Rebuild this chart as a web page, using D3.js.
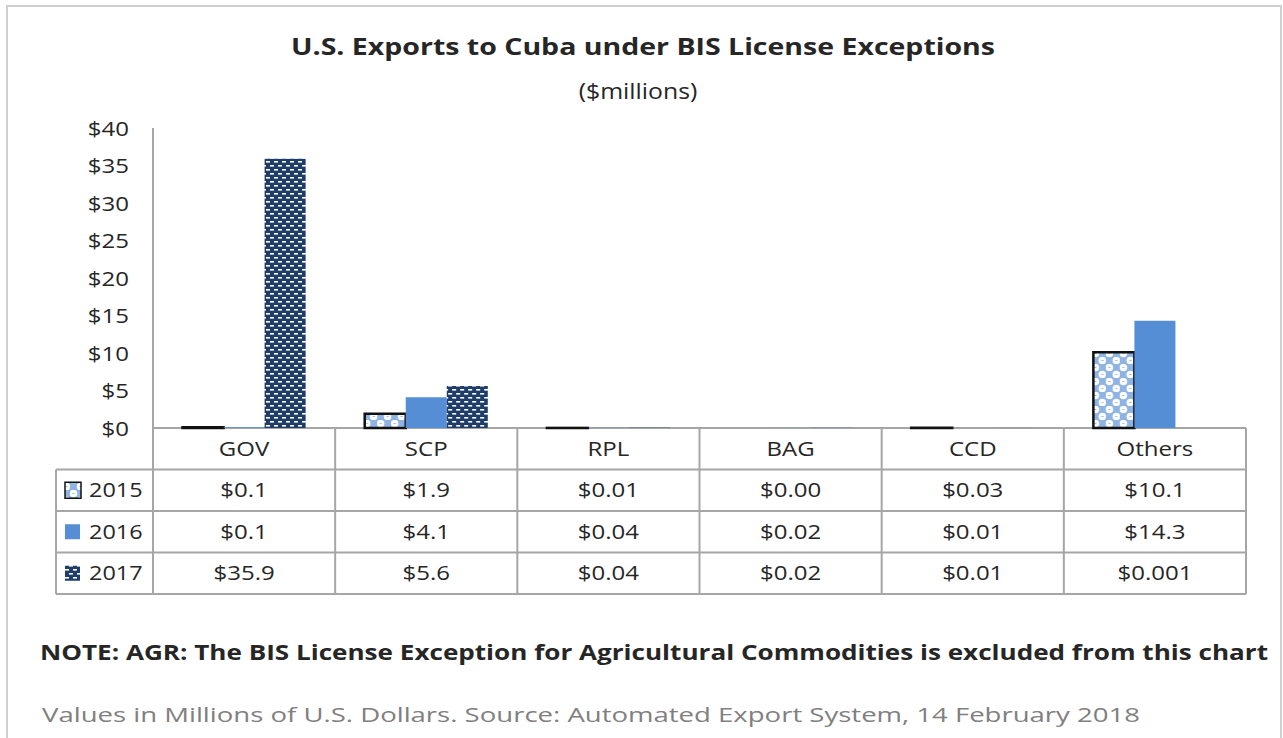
<!DOCTYPE html>
<html><head><meta charset="utf-8">
<script src="https://cdn.jsdelivr.net/npm/d3@7"></script>
<style>
body{margin:0;background:#fff;}
text{font-family:"Open Sans",sans-serif;fill:#262626;}
</style></head>
<body><svg id="c" width="1283" height="738"></svg>
<script>
const categories = ["GOV","SCP","RPL","BAG","CCD","Others"];
const seriesNames = ["2015","2016","2017"];
const values2015 = [0.1,1.9,0.01,0.00,0.03,10.1];
const values2016 = [0.1,4.1,0.04,0.02,0.01,14.3];
const values2017 = [35.9,5.6,0.04,0.02,0.01,0.001];
const labels2015 = ["$0.1","$1.9","$0.01","$0.00","$0.03","$10.1"];
const labels2016 = ["$0.1","$4.1","$0.04","$0.02","$0.01","$14.3"];
const labels2017 = ["$35.9","$5.6","$0.04","$0.02","$0.01","$0.001"];
const yTicks = [0,5,10,15,20,25,30,35,40];
const titleText = "U.S. Exports to Cuba under BIS License Exceptions";
const subtitleText = "($millions)";
const noteText = "NOTE: AGR: The BIS License Exception for Agricultural Commodities is excluded from this chart";
const sourceText = "Values in Millions of U.S. Dollars. Source: Automated Export System, 14 February 2018";

const seriesValues = [values2015, values2016, values2017];
const seriesLabels = [labels2015, labels2016, labels2017];

const svg = d3.select("#c");
const defs = svg.append("defs");

// pattern 2015: light blue checks with white circles
const p15 = defs.append("pattern").attr("id","p15").attr("patternUnits","userSpaceOnUse")
  .attr("width",14).attr("height",14);
p15.append("rect").attr("width",14).attr("height",14).attr("fill","#8fb4e3");
p15.append("circle").attr("cx",3.5).attr("cy",3.5).attr("r",3.8).attr("fill","#fff");
p15.append("circle").attr("cx",10.5).attr("cy",10.5).attr("r",3.8).attr("fill","#fff");
p15.append("rect").attr("x",2.5).attr("y",3).attr("width",2).attr("height",1).attr("fill","#8fb4e3");
p15.append("rect").attr("x",9.5).attr("y",10).attr("width",2).attr("height",1).attr("fill","#8fb4e3");

// pattern 2017: navy with white dashes
const p17 = defs.append("pattern").attr("id","p17").attr("patternUnits","userSpaceOnUse")
  .attr("width",8).attr("height",8);
p17.append("rect").attr("width",8).attr("height",8).attr("fill","#1f3d6b");
p17.append("rect").attr("x",1).attr("y",1).attr("width",4).attr("height",1.6).attr("fill","#fff");
p17.append("rect").attr("x",5).attr("y",5).attr("width",4).attr("height",1.6).attr("fill","#fff");
p17.append("rect").attr("x",-3).attr("y",5).attr("width",4).attr("height",1.6).attr("fill","#fff");

const fills = ["url(#p15)","#558ed5","url(#p17)"];
const strokes = ["#111","none","none"];

function stretch(sel, f){
  sel.each(function(){
    const L = this.getComputedTextLength();
    d3.select(this).attr("textLength", L*f).attr("lengthAdjust","spacingAndGlyphs");
  });
}
function fit(sel, w){
  sel.attr("textLength", w).attr("lengthAdjust","spacingAndGlyphs");
}

// outer frame
svg.append("path").attr("d","M7,745 V6 H1281 V745").attr("fill","none").attr("stroke","#d0d0d0").attr("stroke-width",2);

const x = d3.scaleBand().domain(categories).range([153,1246]).padding(0);
const xi = d3.scaleBand().domain(seriesNames).range([0,x.bandwidth()]).paddingInner(0).paddingOuter(0.72);
const y = d3.scaleLinear().domain([0,40]).range([428,128]);

// title
fit(svg.append("text").attr("x",643).attr("y",55).attr("text-anchor","middle")
  .attr("font-size",23).attr("font-weight","bold").text(titleText), 704);
stretch(svg.append("text").attr("x",638).attr("y",99).attr("text-anchor","middle")
  .attr("font-size",21).text(subtitleText), 1.18);

// table (drawn before bars so bar outlines sit on top of the axis line)
const rowH = 41.5;
const tTop = 428;
const lineC = "#a6a6a6";
const tg = svg.append("g");
tg.append("line").attr("x1",153).attr("x2",1246).attr("y1",tTop).attr("y2",tTop).attr("stroke",lineC).attr("stroke-width",2);
for(let r=1;r<=4;r++){
  tg.append("line").attr("x1",56).attr("x2",1246).attr("y1",tTop+r*rowH).attr("y2",tTop+r*rowH).attr("stroke",lineC).attr("stroke-width",2);
}
categories.forEach(c=>{
  tg.append("line").attr("x1",x(c)).attr("x2",x(c)).attr("y1",tTop).attr("y2",tTop+4*rowH).attr("stroke",lineC).attr("stroke-width",2);
});
tg.append("line").attr("x1",1246).attr("x2",1246).attr("y1",tTop).attr("y2",tTop+4*rowH).attr("stroke",lineC).attr("stroke-width",2);
tg.append("line").attr("x1",56).attr("x2",56).attr("y1",tTop+rowH).attr("y2",tTop+4*rowH).attr("stroke",lineC).attr("stroke-width",2);

stretch(tg.selectAll("text.cat").data(categories).join("text").attr("class","cat")
  .attr("x", d=>x(d)+x.bandwidth()/2).attr("y", tTop+rowH/2).attr("dy","0.35em")
  .attr("text-anchor","middle").attr("font-size",20).text(d=>d), 1.2);

seriesNames.forEach((s,si)=>{
  const cy = tTop+(si+1)*rowH+rowH/2;
  stretch(tg.selectAll("text.v"+si).data(seriesLabels[si]).join("text").attr("class","v"+si)
    .attr("x", (d,i)=>x(categories[i])+x.bandwidth()/2).attr("y", cy).attr("dy","0.35em")
    .attr("text-anchor","middle").attr("font-size",20).text(d=>d), 1.2);
  const ks = si===0?16:15;
  tg.append("rect").attr("x",65).attr("y",cy-ks/2).attr("width",ks).attr("height",ks)
    .attr("fill",fills[si]).attr("stroke",si===0?"#111":"none").attr("stroke-width",si===0?1.5:0);
  stretch(tg.append("text").attr("x",89).attr("y",cy).attr("dy","0.35em").attr("font-size",20).text(s), 1.17);
});

// y axis
const yAxis = d3.axisLeft(y).tickValues(yTicks).tickSize(0).tickPadding(24).tickFormat(d=>"$"+d);
const yg = svg.append("g").attr("transform","translate(153,0)").call(yAxis);
yg.select(".domain").attr("stroke","#a6a6a6").attr("stroke-width",2).attr("d","M0,128V428");
yg.selectAll("text").attr("font-size",20).attr("fill","#262626").attr("font-family","Open Sans").attr("dy","0.35em");
stretch(yg.selectAll("text"), 1.2);

// bars
const groups = svg.append("g").selectAll("g").data(categories).join("g")
  .attr("transform", d=>`translate(${x(d)},0)`);
seriesNames.forEach((s,si)=>{
  groups.filter((d,i)=> seriesValues[si][i] > 0).append("rect")
    .attr("x", xi(s))
    .attr("width", xi.bandwidth())
    .attr("y", d=> y(seriesValues[si][categories.indexOf(d)]))
    .attr("height", d=> y(0)-y(seriesValues[si][categories.indexOf(d)]))
    .attr("fill", fills[si])
    .attr("stroke", strokes[si])
    .attr("stroke-width", 2.5);
});

// note and source
fit(svg.append("text").attr("x",40).attr("y",660).attr("font-size",21).attr("font-weight","bold").attr("fill","#0d0d0d").text(noteText), 1228);
fit(svg.append("text").attr("x",42).attr("y",722).attr("font-size",20).style("fill","#808080").text(sourceText), 1098);
</script></body></html>
